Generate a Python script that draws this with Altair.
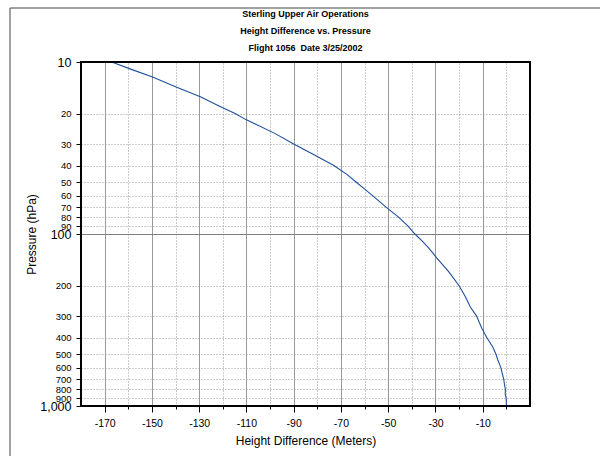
import altair as alt
import pandas as pd

# ---- data ----
pressure = [10, 11, 12.2, 14, 15.9, 18, 20, 21.7, 26, 30, 35, 40, 45, 50, 55,
            60, 70, 80, 90, 100, 110, 120, 138, 165, 200, 231, 265, 300, 353,
            400, 452, 500, 540, 577, 600, 650, 700, 750, 800, 850, 900, 950, 1000]
height = [-167, -159, -150, -139.5, -129.5, -121.6, -114.6, -110, -98, -90, -80.8, -73,
          -67.5, -63.5, -59.8, -56.5, -50.8, -45.5, -41.6, -38.7, -35.6,
          -33, -29.4, -24.5, -20, -17.4, -15.3, -12.6, -10.4, -8.3, -5.8, -4.4, -3.6,
          -2.8, -2.3, -1.7, -1.1, -0.8, -0.4, -0.5, -0.1, 0, 0]

x_ticks = list(range(-170, 1, 10))
y_ticks = [10, 20, 30, 40, 50, 60, 70, 80, 90, 100, 200, 300, 400, 500, 600, 700, 800, 900, 1000]
titles = ["Sterling Upper Air Operations", "Height Difference vs. Pressure",
          "Flight 1056\u00a0 Date 3/25/2002"]

df = pd.DataFrame({"p": pressure, "h": height, "i": list(range(len(pressure)))})

FONT = "Liberation Sans"
W, H = 449, 344

major_x = "(datum.value + 170) % 20 == 0"
big_y = "datum.value == 10 || datum.value == 100 || datum.value == 1000"

x_axis = alt.Axis(
    values=x_ticks,
    labelExpr=f"{major_x} ? ('' + datum.value) : ''",
    domain=False,
    grid=True,
    gridColor="#999999",
    gridDash={"condition": {"test": major_x, "value": []}, "value": [1, 2]},
    tickSize={"condition": {"test": major_x, "value": 6}, "value": 3},
    tickColor="#000000",
    labelFont=FONT, labelFontSize=10.5, labelColor="#000000", labelPadding=6,
    labelOverlap=False, labelFlush=False,
    title="Height Difference (Meters)", titleFont=FONT, titleFontSize=12,
    titleFontWeight="normal", titleColor="#000000", titleY=34, titleBaseline="middle",
)

y_axis = alt.Axis(
    values=y_ticks,
    format=",",
    domain=False,
    grid=True,
    gridColor={"condition": {"test": "datum.value == 100", "value": "#808080"}, "value": "#9a9a9a"},
    gridDash={"condition": {"test": "datum.value == 100", "value": []}, "value": [1, 2]},
    gridOpacity={"condition": {"test": "datum.value == 10 || datum.value == 1000", "value": 0}, "value": 1},
    tickSize=5, tickColor="#000000",
    labelFont=FONT, labelColor="#000000",
    labelFontSize={"condition": {"test": big_y, "value": 12.5}, "value": 9.5},
    labelPadding=5, labelOverlap=False, labelFlush=False,
    title="Pressure (hPa)", titleFont=FONT, titleFontSize=12, titleFontWeight="normal",
    titleColor="#000000", titleX=-50, titleY=172, titleBaseline="middle",
)

line = alt.Chart(df).mark_line(color="#1f4f9c", strokeWidth=1.1, clip=True).encode(
    x=alt.X("h:Q", scale=alt.Scale(domain=[-180, 10], nice=False, zero=False), axis=x_axis),
    y=alt.Y("p:Q", scale=alt.Scale(type="log", domain=[10, 1000], reverse=True, nice=False), axis=y_axis),
    order="i:Q",
)

one = alt.Data(values=[{}])
frame = alt.Chart(one).mark_rect(filled=False, stroke="#000000", strokeWidth=2).encode(
    x=alt.value(0), x2=alt.value(W), y=alt.value(0), y2=alt.value(H)
)
outer_top = alt.Chart(one).mark_rule(color="#444444", strokeWidth=1).encode(
    x=alt.value(-71), x2=alt.value(519), y=alt.value(-54)
)
outer_left = alt.Chart(one).mark_rule(color="#444444", strokeWidth=1).encode(
    x=alt.value(-71), y=alt.value(-54), y2=alt.value(400)
)

title_layers = []
for k, t in enumerate(titles):
    title_layers.append(
        alt.Chart(alt.Data(values=[{"t": t}])).mark_text(
            font=FONT, fontSize=9, fontWeight="bold", color="#000000",
            align="center", baseline="middle"
        ).encode(text="t:N", x=alt.value(W / 2), y=alt.value(-48 + 17 * k))
    )

chart = alt.layer(line, frame, outer_top, outer_left, *title_layers).properties(
    width=W, height=H,
    padding={"left": 81, "top": 62, "right": 70, "bottom": 50},
    autosize="none",
    background="#ffffff",
).configure_view(strokeWidth=0)

chart.save("out.html", embed_options={"renderer": "svg", "actions": False})
